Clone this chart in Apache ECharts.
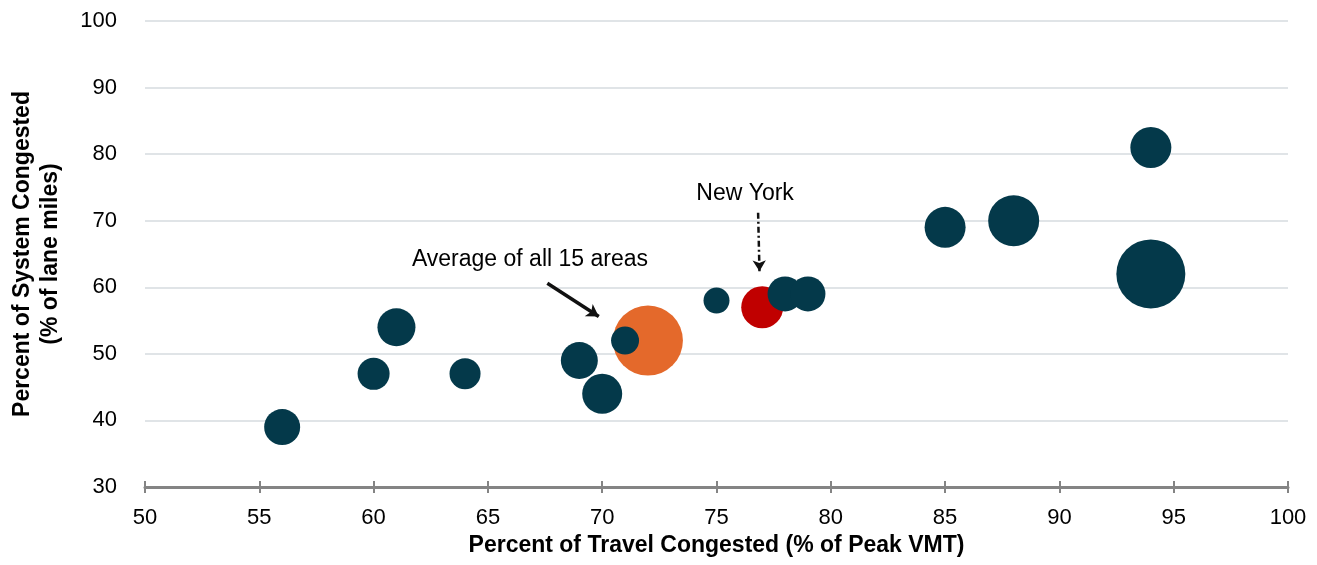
<!DOCTYPE html>
<html>
<head>
<meta charset="utf-8">
<script src="https://cdn.jsdelivr.net/npm/echarts@6/dist/echarts.min.js"></script>
<style>
  html, body { margin: 0; padding: 0; background: #fff; }
  #chart { width: 1317px; height: 565px; }
</style>
</head>
<body>
<div id="chart"></div>
<script>
// Urban areas: share of peak travel congested vs. share of lane miles congested
const areaTravel = [56, 60, 61, 64, 69, 70, 71, 75, 78, 79, 85, 88, 94, 94];
const areaSystem = [39, 47, 54, 47, 49, 44, 52, 58, 59, 59, 69, 70, 81, 62];
const areaBubble = [36, 32, 38, 31, 37, 40, 28, 26, 35, 35, 41, 51, 41, 69];

const newYork = { travel: 77, system: 57, bubble: 42 };
const average = { travel: 72, system: 52, bubble: 70 };

const xTicks = [50, 55, 60, 65, 70, 75, 80, 85, 90, 95, 100];
const yTicks = [30, 40, 50, 60, 70, 80, 90, 100];

// Callout text and arrows, in axis units
const noteText = ['Average of all 15 areas', 'New York'];
const noteAt = [[66.84, 64.1], [76.25, 74.1]];
const avgArrow = [[67.6, 60.6], [69.85, 55.6]];
const nyArrow = [[76.82, 71.2], [76.88, 62.4]];

const DARK = '#04394a';
const FONT = '"Liberation Sans", Arial, sans-serif';

const chart = echarts.init(document.getElementById('chart'));

const xAxisBase = {
  type: 'value',
  min: xTicks[0],
  max: xTicks[xTicks.length - 1],
  interval: xTicks[1] - xTicks[0],
  splitLine: { show: false }
};

chart.setOption({
  animation: false,
  backgroundColor: '#ffffff',
  grid: { left: 145, right: 29, top: 21, bottom: 78, containLabel: false, outerBoundsMode: 'none' },
  xAxis: [
    Object.assign({}, xAxisBase, {
      name: 'Percent of Travel Congested (% of Peak VMT)',
      nameLocation: 'middle',
      nameGap: 44,
      nameTextStyle: { fontFamily: FONT, fontSize: 23, fontWeight: 'bold', color: '#000' },
      axisLine: { show: true, lineStyle: { color: '#848484', width: 3 } },
      axisTick: { show: true, inside: false, length: 6, lineStyle: { color: '#848484', width: 2 } },
      axisLabel: { fontFamily: FONT, fontSize: 22, color: '#000', margin: 20 }
    }),
    Object.assign({}, xAxisBase, {
      position: 'bottom',
      axisLine: { show: false },
      axisTick: { show: true, inside: true, length: 6, lineStyle: { color: '#848484', width: 2 } },
      axisLabel: { show: false }
    })
  ],
  yAxis: {
    type: 'value',
    min: yTicks[0],
    max: yTicks[yTicks.length - 1],
    interval: yTicks[1] - yTicks[0],
    name: 'Percent of System Congested\n(% of lane miles)',
    nameLocation: 'middle',
    nameGap: 80,
    nameRotate: 90,
    nameTextStyle: { fontFamily: FONT, fontSize: 23, fontWeight: 'bold', color: '#000', lineHeight: 28 },
    axisLine: { show: false },
    axisTick: { show: false },
    axisLabel: { fontFamily: FONT, fontSize: 22, color: '#000', margin: 28 },
    splitLine: { show: true, lineStyle: { color: '#d6dbdf', width: 1.5 } }
  },
  series: [
    {
      name: 'Average',
      type: 'scatter',
      data: [[average.travel, average.system]],
      symbolSize: average.bubble,
      itemStyle: { color: '#e4692b', opacity: 1 },
      z: 2,
      markLine: {
        silent: true,
        symbol: ['none', 'arrow'],
        symbolSize: [11, 12],
        label: { show: false },
        lineStyle: { color: '#111', width: 3.5, type: 'solid', opacity: 1 },
        data: [[{ coord: avgArrow[0] }, { coord: avgArrow[1] }]]
      }
    },
    {
      name: 'New York',
      type: 'scatter',
      data: [[newYork.travel, newYork.system]],
      symbolSize: newYork.bubble,
      itemStyle: { color: '#c00000', opacity: 1 },
      z: 3,
      markLine: {
        silent: true,
        symbol: ['none', 'arrow'],
        symbolSize: [10, 11],
        label: { show: false },
        lineStyle: { color: '#111', width: 2.5, type: [6, 3, 2, 3], opacity: 1 },
        data: [[{ coord: nyArrow[0] }, { coord: nyArrow[1] }]]
      }
    },
    {
      name: 'Urban areas',
      type: 'scatter',
      data: areaTravel.map((x, i) => [x, areaSystem[i], areaBubble[i]]),
      symbolSize: d => d[2],
      itemStyle: { color: DARK, opacity: 1 },
      z: 4
    },
    {
      name: 'Notes',
      type: 'scatter',
      silent: true,
      symbolSize: 0,
      itemStyle: { opacity: 1, color: 'transparent' },
      data: noteText.map((t, i) => ({ name: t, value: noteAt[i] })),
      label: {
        show: true,
        position: 'inside',
        formatter: p => p.name,
        fontFamily: FONT,
        fontSize: 23,
        color: '#000'
      },
      z: 5
    }
  ]
});
</script>
</body>
</html>
